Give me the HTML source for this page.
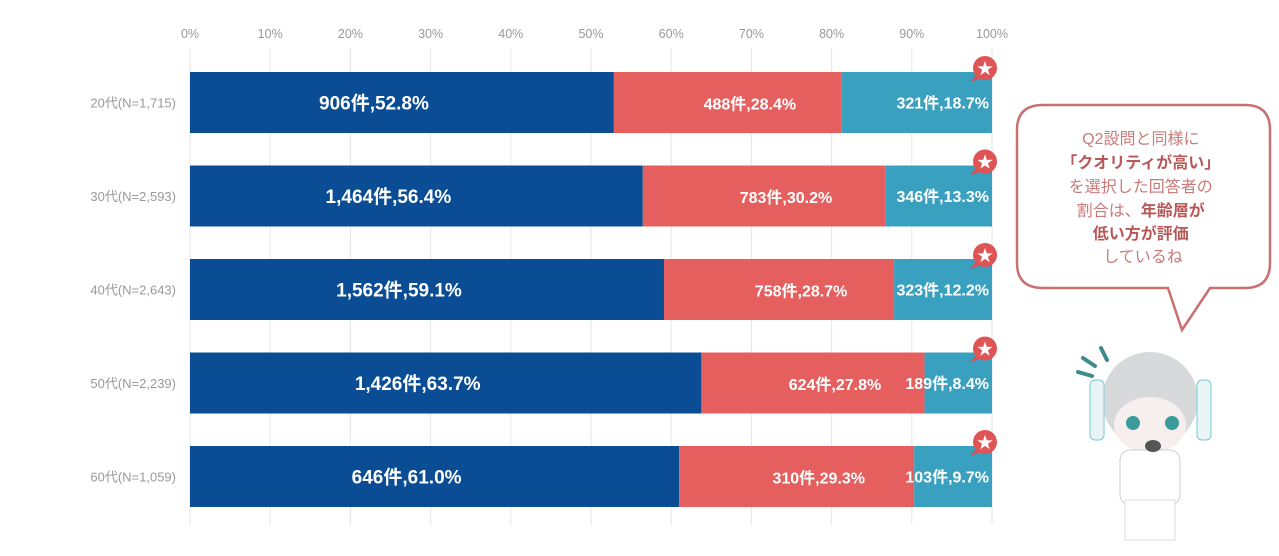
<!DOCTYPE html>
<html><head><meta charset="utf-8"><style>
body{margin:0;background:#fff;width:1279px;height:551px;overflow:hidden;font-family:"Liberation Sans","Noto Sans CJK JP",sans-serif}
svg text{font-family:"Liberation Sans","Noto Sans CJK JP",sans-serif}
</style></head><body>
<svg id="chart" width="1279" height="551" xmlns="http://www.w3.org/2000/svg">
<g id="grid"></g><g id="bars"></g><g id="labels"></g>
<g>
<path d="M1043,105 H1245 Q1270,105 1270,130 V263 Q1270,288 1245,288 H1210 L1182,330 L1168,288 H1043 Q1017,288 1017,263 V130 Q1017,105 1043,105 Z" fill="#fff" stroke="#c97070" stroke-width="2.5"/>
<text text-anchor="middle" font-size="16" fill="#c97a7a">
<tspan x="1143" y="144">Q2設問と同様に</tspan>
<tspan x="1143" y="168" font-weight="bold" fill="#b85858">「クオリティが高い」</tspan>
<tspan x="1143" y="192">を選択した回答者の</tspan>
<tspan x="1143" y="216">割合は、<tspan font-weight="bold" fill="#b85858">年齢層が</tspan></tspan>
<tspan x="1143" y="239" font-weight="bold" fill="#b85858">低い方が評価</tspan>
<tspan x="1143" y="262">しているね</tspan>
</text></g>
<g>
<path d="M1083,358 L1095,366 M1078,372 L1092,376 M1101,348 L1107,360" stroke="#3f8a8a" stroke-width="4" stroke-linecap="round"/>
<circle cx="1150" cy="400" r="48" fill="#d8d9db"/>
<rect x="1090" y="380" width="14" height="60" rx="5" fill="#e8f4f6" stroke="#7cc"/>
<rect x="1197" y="380" width="14" height="60" rx="5" fill="#e8f4f6" stroke="#7cc"/>
<ellipse cx="1150" cy="425" rx="36" ry="28" fill="#f7eeee"/>
<circle cx="1133" cy="423" r="7" fill="#3a9a9c"/><circle cx="1172" cy="423" r="7" fill="#3a9a9c"/>
<rect x="1120" y="450" width="60" height="55" rx="10" fill="#fff" stroke="#ccc"/>
<rect x="1125" y="500" width="50" height="40" fill="#fff" stroke="#ddd"/>
<ellipse cx="1153" cy="446" rx="8" ry="6" fill="#555"/>
</g>
</svg>
<script>
const categories=["20代(N=1,715)","30代(N=2,593)","40代(N=2,643)","50代(N=2,239)","60代(N=1,059)"];
const highPct=[52.8,56.4,59.1,63.7,61.0];
const midPct=[28.4,30.2,28.7,27.8,29.3];
const lowPct=[18.7,13.3,12.2,8.4,9.7];
const highCnt=["906","1,464","1,562","1,426","646"];
const midCnt=["488","783","758","624","310"];
const lowCnt=["321","346","323","189","103"];
const ticks=[0,10,20,30,40,50,60,70,80,90,100];
const NS="http://www.w3.org/2000/svg";
const X0=190,X1=992;
const x=v=>X0+(X1-X0)*v/100;
const rowY=i=>72+i*93.5, BH=61;
function mk(t,a,p){const e=document.createElementNS(NS,t);for(const k in a)e.setAttribute(k,a[k]);p.appendChild(e);return e;}
const grid=document.getElementById('grid'),bars=document.getElementById('bars'),labels=document.getElementById('labels');
ticks.forEach(t=>{
 const l=mk('line',{x1:x(t),x2:x(t),y1:48,y2:525,stroke:'#e6e6e6','stroke-width':1},grid);
 
 
 const tx=mk('text',{x:x(t),y:38,'text-anchor':'middle','font-size':12.5,fill:'#999'},grid);
 tx.textContent=t+'%';
 
 
});
const colors=['#0a4d94','#e65f5f','#3aa0bf'];
categories.forEach((c,i)=>{
 const y=rowY(i);
 const cl=mk('text',{x:176,y:y+BH/2+5,'text-anchor':'end','font-size':13,fill:'#999'},labels);
 cl.textContent=c;
 
 
 const segs=[[highPct[i],highCnt[i]],[midPct[i],midCnt[i]],[lowPct[i],lowCnt[i]]];
 let acc=0;
 const tot=highPct[i]+midPct[i]+lowPct[i];
 segs.forEach((s,j)=>{
  const a=acc/tot*100,b=(acc+s[0])/tot*100;acc+=s[0];
  const r=mk('rect',{x:x(a),y:y,width:x(b)-x(a),height:BH,fill:colors[j]},bars);
  
  
  let lx=(x(a)+x(b))/2, anchor='middle';
  if(j==0) lx-=28;
  if(j==1) lx+=22;
  if(j==2){lx=989;anchor='end';}
  const t=mk('text',{x:lx,y:y+BH/2+(j==0?7:6)+(j==1?1:0),'text-anchor':anchor,'font-size':j==0?19:16,'font-weight':'bold',fill:'#fff'},labels);
  t.textContent=s[1]+'件,'+s[0].toFixed(1)+'%';
  
  
 });
 const g=mk('g',{},labels);
 
 
 mk('path',{d:`M${975},${y+4} L${970},${y+10} L${981},${y+6} Z`,fill:'#d95050'},g);
 mk('circle',{cx:985,cy:y-4,r:12,fill:'#df5555'},g);
 const st=mk('text',{x:985,y:y+2,'text-anchor':'middle','font-size':16,fill:'#fff'},g);
 st.textContent='★';
});
</script>
</body></html>
